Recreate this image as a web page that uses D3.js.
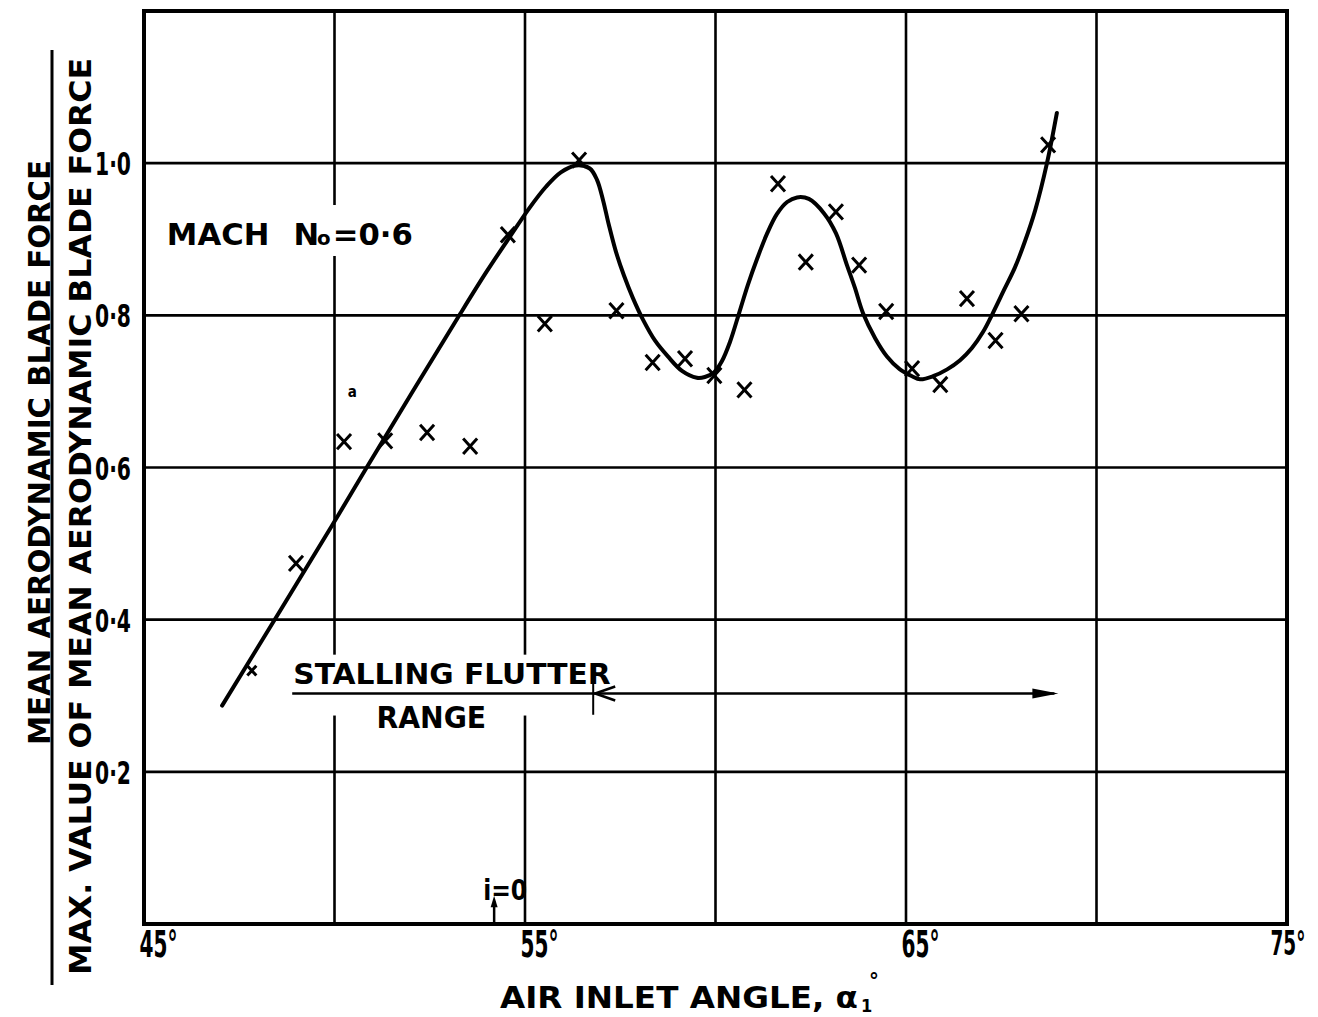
<!DOCTYPE html>
<html><head><meta charset="utf-8">
<script src="https://cdn.jsdelivr.net/npm/d3@7/dist/d3.min.js"></script>
<style>body{margin:0;background:#fff}</style>
</head><body><svg id="c" width="1318" height="1017"></svg>
<script>
// measured points (crosses)
const pointAngles = [47.83,48.99,50.25,51.33,52.43,53.56,54.55,55.52,56.42,57.40,58.35,59.20,59.97,60.76,61.64,62.37,63.16,63.77,64.48,65.16,65.90,66.60,67.35,68.03,68.73];
const pointValues = [0.333,0.474,0.634,0.635,0.646,0.628,0.906,0.789,1.004,0.806,0.738,0.743,0.721,0.702,0.973,0.870,0.936,0.866,0.805,0.730,0.709,0.822,0.767,0.802,1.024];
// faired curve
const curveAngles = [47.05,49.94,50.88,53.30,54.00,54.60,55.10,55.55,55.94,56.34,56.70,56.89,57.05,57.20,57.39,57.60,57.83,58.10,58.41,58.75,59.12,59.51,59.72,59.96,60.17,60.38,60.62,60.85,61.09,61.35,61.61,61.88,62.14,62.45,62.85,63.16,63.45,63.66,63.87,64.19,64.50,64.84,65.16,65.37,65.71,66.08,66.42,66.73,67.02,67.28,67.57,67.86,68.12,68.39,68.70,68.96];
const curveValues = [0.287,0.524,0.603,0.802,0.858,0.903,0.940,0.969,0.988,0.997,0.993,0.978,0.951,0.919,0.883,0.852,0.823,0.794,0.767,0.746,0.727,0.718,0.719,0.725,0.740,0.765,0.803,0.840,0.874,0.907,0.933,0.949,0.955,0.953,0.934,0.908,0.866,0.836,0.803,0.770,0.746,0.729,0.720,0.716,0.720,0.729,0.741,0.757,0.778,0.803,0.833,0.863,0.897,0.938,1.000,1.066];
const xTickValues = [45,55,65,75];
const xGridValues = [50,55,60,65,70];
const yTickValues = [0.2,0.4,0.6,0.8,1.0];
const flutterStart = 56.79, flutterEnd = 69.0, flutterLevel = 0.303, underlineStart = 48.89;
const incidenceZero = 54.19;

const svg = d3.select("#c");
const x = d3.scaleLinear().domain([45,75]).range([144,1287]);
const y = d3.scaleLinear().domain([0,1.2]).range([924,11]);
const font = "'DejaVu Sans Condensed','DejaVu Sans', sans-serif";

// grid
const g = svg.append("g");
g.selectAll(".vg").data(xGridValues).join("line")
  .attr("x1", d=>x(d)).attr("x2", d=>x(d)).attr("y1", y(1.2)).attr("y2", y(0))
  .attr("stroke","#000").attr("stroke-width",2.6);
g.selectAll(".hg").data(yTickValues).join("line")
  .attr("x1", x(45)).attr("x2", x(75)).attr("y1", d=>y(d)).attr("y2", d=>y(d))
  .attr("stroke","#000").attr("stroke-width",2.6);

// white boxes behind annotations (grid gaps)
svg.append("rect").attr("x", x(45.5)).attr("y", y(0.945)).attr("width", x(52.4)-x(45.5)).attr("height", y(0.878)-y(0.945)).attr("fill","#fff");
svg.append("rect").attr("x", x(48.85)).attr("y", y(0.354)).attr("width", x(57.2)-x(48.85)).attr("height", y(0.274)-y(0.354)).attr("fill","#fff");

// frame
svg.append("rect").attr("x", x(45)).attr("y", y(1.2)).attr("width", x(75)-x(45)).attr("height", y(0)-y(1.2))
  .attr("fill","none").attr("stroke","#000").attr("stroke-width",4);

// axes (labels only)
const xAxis = d3.axisBottom(x).tickValues(xTickValues).tickSize(0).tickFormat(d=>d+"°");
const xa = svg.append("g").attr("transform",`translate(0,${y(0)})`).call(xAxis);
xa.select(".domain").remove();
xa.selectAll("text").attr("font-family",font).attr("font-weight","bold").attr("font-size",d=>d===75?34:37).attr("fill","#000")
  .attr("text-anchor","end").attr("x",d=>d===75?18:33).attr("dy","0.82em")
  .attr("textLength",d=>d===75?35:38).attr("lengthAdjust","spacingAndGlyphs");

const yAxis = d3.axisLeft(y).tickValues(yTickValues).tickSize(0).tickFormat(d=>d3.format(".1f")(d).replace(".","·"));
const ya = svg.append("g").attr("transform",`translate(${x(45)-10},0)`).call(yAxis);
ya.select(".domain").remove();
ya.selectAll("text").attr("font-family",font).attr("font-weight","bold").attr("font-size",32).attr("fill","#000").attr("dy","0.36em")
  .attr("textLength",36).attr("lengthAdjust","spacingAndGlyphs");

// curve
const pts = curveAngles.map((a,i)=>[a,curveValues[i]]);
svg.append("path").datum(pts)
  .attr("d", d3.line().x(d=>x(d[0])).y(d=>y(d[1])).curve(d3.curveCatmullRom.alpha(0.5)))
  .attr("fill","none").attr("stroke","#000").attr("stroke-width",4).attr("stroke-linecap","round").attr("stroke-linejoin","round");

// crosses
const cross = pointAngles.map((a,i)=>({a, v: pointValues[i], s: i===0?4.5:7}));
svg.selectAll(".pt").data(cross).join("path")
  .attr("d", d=>{const cx=x(d.a), cy=y(d.v), s=d.s; return `M${cx-s},${cy-s*1.1}L${cx+s},${cy+s*1.1}M${cx+s},${cy-s*1.1}L${cx-s},${cy+s*1.1}`;})
  .attr("stroke","#000").attr("stroke-width",3).attr("fill","none");

// small 'a' mark
svg.append("text").attr("x", x(50.35)).attr("y", y(0.693)).attr("font-family",font).attr("font-size",15).attr("font-weight","bold").text("a");

// MACH text
const mt = svg.append("text").attr("x", x(45.6)).attr("y", y(0.893)).attr("font-family",font).attr("font-weight","bold").attr("font-size",31).attr("fill","#000")
  .attr("textLength",246).attr("lengthAdjust","spacingAndGlyphs");
mt.append("tspan").text("MACH");
mt.append("tspan").attr("dx",22).text("N");
mt.append("tspan").attr("font-size",20).attr("dx",-2).text("o");
mt.append("tspan").attr("dx",2).text("=");
mt.append("tspan").text("0·6");

// Stalling flutter range
svg.append("text").attr("x", x(48.92)).attr("y", y(0.316)).attr("font-family",font).attr("font-weight","bold").attr("font-size",28)
  .attr("textLength", x(57.25)-x(48.92)).attr("lengthAdjust","spacingAndGlyphs").text("STALLING  FLUTTER");
svg.append("text").attr("x", x(51.1)).attr("y", y(0.257)).attr("font-family",font).attr("font-weight","bold").attr("font-size",31)
  .attr("textLength", x(53.98)-x(51.1)).attr("lengthAdjust","spacingAndGlyphs").text("RANGE");
svg.append("line").attr("x1", x(underlineStart)).attr("x2", x(flutterEnd)-4).attr("y1", y(flutterLevel)).attr("y2", y(flutterLevel))
  .attr("stroke","#000").attr("stroke-width",2.6);
svg.append("line").attr("x1", x(flutterStart)).attr("x2", x(flutterStart)).attr("y1", y(0.328)).attr("y2", y(0.275))
  .attr("stroke","#000").attr("stroke-width",2);
{
  const ax = x(flutterStart), ay = y(flutterLevel);
  svg.append("path").attr("d", `M${ax+22},${ay-7}L${ax+2},${ay}L${ax+22},${ay+7}`).attr("fill","none").attr("stroke","#000").attr("stroke-width",2.6);
  const bx = x(flutterEnd), by = ay;
  svg.append("path").attr("d", `M${bx},${by}L${bx-26},${by-5}L${bx-26},${by+5}Z`).attr("fill","#000");
}

// i = 0 marker
{
  const ix = x(incidenceZero);
  svg.append("line").attr("x1",ix).attr("x2",ix).attr("y1",y(0)).attr("y2",y(0.03)).attr("stroke","#000").attr("stroke-width",2.5);
  svg.append("path").attr("d",`M${ix},${y(0.037)}L${ix-3.5},${y(0.022)}L${ix+3.5},${y(0.022)}Z`).attr("fill","#000");
  svg.append("text").attr("x", ix-11).attr("y", y(0.032)).attr("font-family",font).attr("font-weight","bold").attr("font-size",29)
    .attr("textLength",44).attr("lengthAdjust","spacingAndGlyphs").text("i=0");
}

// x title
svg.append("text").attr("x", 500).attr("y", 1008).attr("font-family",font).attr("font-weight","bold").attr("font-size",30)
  .attr("textLength",358).attr("lengthAdjust","spacingAndGlyphs").text("AIR INLET ANGLE, α");
svg.append("text").attr("x", 861).attr("y", 1012).attr("font-family",font).attr("font-weight","bold").attr("font-size",18).text("1");
svg.append("text").attr("x", 869).attr("y", 988).attr("font-family",font).attr("font-weight","bold").attr("font-size",22).text("°");

// y title (fraction)
svg.append("text").attr("transform","translate(50,745) rotate(-90)").attr("font-family",font).attr("font-weight","bold").attr("font-size",31)
  .attr("textLength",585).attr("lengthAdjust","spacingAndGlyphs").text("MEAN AERODYNAMIC BLADE FORCE");
svg.append("line").attr("x1",52).attr("x2",52).attr("y1",50).attr("y2",985).attr("stroke","#000").attr("stroke-width",3);
svg.append("text").attr("transform","translate(91,975) rotate(-90)").attr("font-family",font).attr("font-weight","bold").attr("font-size",30)
  .attr("textLength",917).attr("lengthAdjust","spacingAndGlyphs").text("MAX. VALUE OF MEAN AERODYNAMIC BLADE FORCE");
</script></body></html>
